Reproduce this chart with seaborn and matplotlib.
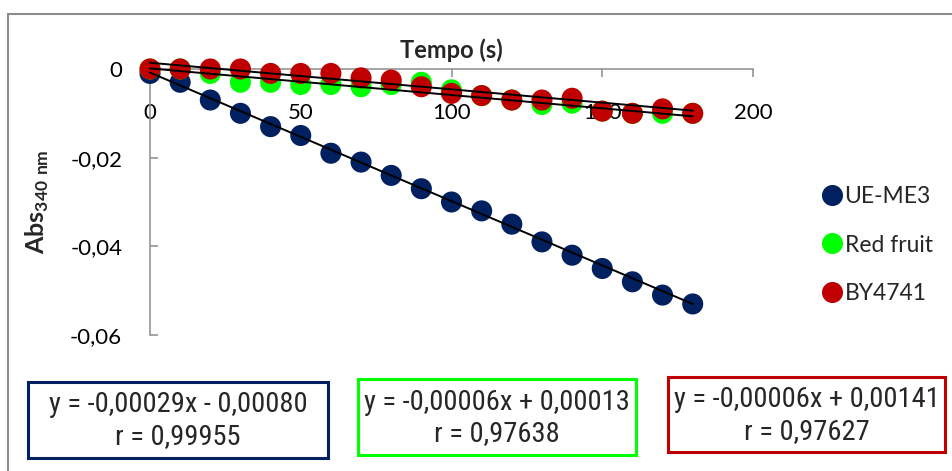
import numpy as np
import pandas as pd
import matplotlib
matplotlib.use("Agg")
import matplotlib.pyplot as plt
from matplotlib.patches import Rectangle
from matplotlib import font_manager
import seaborn as sns

# Absorbance at 340 nm over time for three strains
tempo = [0, 10, 20, 30, 40, 50, 60, 70, 80, 90, 100, 110, 120, 130, 140, 150, 160, 170, 180]
ue_me3 = [-0.001, -0.003, -0.007, -0.010, -0.013, -0.015, -0.019, -0.021, -0.024, -0.027,
          -0.030, -0.032, -0.035, -0.039, -0.042, -0.045, -0.048, -0.051, -0.053]
red_fruit = [0.0, 0.0, -0.001, -0.003, -0.003, -0.0035, -0.0035, -0.004, -0.0035, -0.003,
             -0.0047, -0.006, -0.007, -0.008, -0.0077, -0.0095, -0.010, -0.010, -0.010]
by4741 = [0.0, 0.0, 0.0, 0.0, -0.001, -0.001, -0.001, -0.002, -0.0025, -0.004,
          -0.0055, -0.006, -0.007, -0.007, -0.0066, -0.0095, -0.010, -0.009, -0.010]

series_names = ["UE-ME3", "Red fruit", "BY4741"]
series_colors = ["#002060", "#00FF00", "#C00000"]

# Linear trendlines and correlation coefficients
trend_slope = [-0.00029, -0.00006, -0.00006]
trend_intercept = [-0.00080, 0.00013, 0.00141]
trend_r = [0.99955, 0.97638, 0.97627]

x_ticks = [0, 50, 100, 150, 200]
y_ticks = [0, -0.02, -0.04, -0.06]


def comma(v, nd):
    return f"{v:.{nd}f}".replace(".", ",")


sns.set_theme(style="white")
plt.rcParams["font.family"] = ["Lato", "DejaVu Sans"]
plt.rcParams["mathtext.fontset"] = "custom"
plt.rcParams["mathtext.rm"] = "Lato"
plt.rcParams["mathtext.bf"] = "Lato:bold"

# Narrow face for the equation boxes
installed = {f.name for f in font_manager.fontManager.ttflist}
box_family = [n for n in ["DejaVu Sans Condensed", "Liberation Sans Narrow",
                          "Roboto Condensed", "Open Sans Condensed"] if n in installed]
box_family = (box_family[:1] or ["Roboto"]) + ["DejaVu Sans"]

W, H = 952, 471
fig = plt.figure(figsize=(W / 100, H / 100), dpi=100)
fig.patch.set_facecolor("white")

ax = fig.add_axes([150 / W, 1 - 335 / H, 603 / W, 266 / H])

df = pd.DataFrame({
    "Tempo": tempo * 3,
    "Abs": ue_me3 + red_fruit + by4741,
    "Amostra": [n for n in series_names for _ in tempo],
})

sns.scatterplot(data=df, x="Tempo", y="Abs", hue="Amostra",
                palette=dict(zip(series_names, series_colors)),
                s=230, edgecolor="none", linewidth=0, ax=ax,
                clip_on=False, zorder=3)

xs = np.array([tempo[0], tempo[-1]], dtype=float)
for m, b in zip(trend_slope, trend_intercept):
    ax.plot(xs, m * xs + b, color="black", lw=1.4, zorder=4, clip_on=False)

ax.set_xlim(0, 200)
ax.set_ylim(-0.06, 0)
ax.set_xticks(x_ticks)
ax.set_xticklabels([str(t) for t in x_ticks])
ax.set_yticks(y_ticks)
ax.set_yticklabels([comma(t, 2) if t != 0 else "0" for t in y_ticks])

axis_gray = "#8c8c8c"
for side in ["right", "bottom"]:
    ax.spines[side].set_visible(False)
for side in ["left", "top"]:
    ax.spines[side].set_color(axis_gray)
    ax.spines[side].set_linewidth(1.1)

ax.xaxis.set_ticks_position("top")
ax.tick_params(axis="x", which="major", top=True, bottom=False, labeltop=True,
               labelbottom=False, direction="in", length=6, width=1.1,
               color=axis_gray, pad=-39, labelsize=16, labelcolor="black")
ax.tick_params(axis="y", which="major", left=True, direction="in", length=6,
               width=1.1, color=axis_gray, pad=20, labelsize=16,
               labelcolor="black")

ax.xaxis.set_label_position("top")
ax.set_xlabel("Tempo (s)", fontsize=17, fontweight="bold", labelpad=8)
ax.set_ylabel(r"$\mathbf{Abs}_{\mathbf{340\ nm}}$", fontsize=18, labelpad=14)
ax.grid(False)

leg = ax.legend(loc="center left", bbox_to_anchor=(809 / W, 1 - 245 / H),
                bbox_transform=fig.transFigure, frameon=False, fontsize=16.5,
                handlelength=1.0, handletextpad=0.05, labelspacing=1.18,
                borderpad=0)

# Outer chart frame
fig.patches.append(Rectangle((7.5 / W, -0.2), 1.0, 1.2 - 13.5 / H,
                             transform=fig.transFigure, fill=False,
                             edgecolor=axis_gray, lw=1.5))

# Trendline equation boxes
boxes = [(28, 382, 300, 76), (358, 379, 278, 76), (668, 377, 277, 75)]
for (bx, by, bw, bh), m, b, r, c in zip(boxes, trend_slope, trend_intercept,
                                        trend_r, series_colors):
    fig.patches.append(Rectangle((bx / W, 1 - (by + bh) / H), bw / W, bh / H,
                                 transform=fig.transFigure, fill=True,
                                 facecolor="white", edgecolor=c, lw=2.2))
    sign = "+" if b >= 0 else "-"
    eq = f"y = {comma(m, 5)}x {sign} {comma(abs(b), 5)}"
    cx = (bx + bw / 2) / W
    fig.text(cx, 1 - (by + bh / 2 - 15) / H, eq, ha="center", va="center",
             fontsize=20.5, family=box_family)
    fig.text(cx, 1 - (by + bh / 2 + 17) / H, f"r = {comma(r, 5)}", ha="center",
             va="center", fontsize=20.5, family=box_family)

fig.savefig("out.png", dpi=100, facecolor="white")
